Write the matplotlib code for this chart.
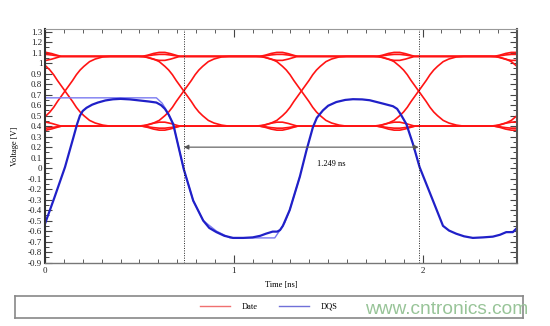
import matplotlib
matplotlib.use("Agg")
import matplotlib.pyplot as plt
from matplotlib.ticker import MultipleLocator, FuncFormatter
from matplotlib.lines import Line2D

plt.rcParams['font.family'] = ['Liberation Serif', 'DejaVu Serif']
plt.rcParams['axes.unicode_minus'] = False

# --- data ---

# DQS strobe, measured trace (time in ns, voltage in V)
dqs_t = [0.0, 0.05, 0.106, 0.15, 0.17, 0.185, 0.20, 0.22, 0.25, 0.28, 0.32, 0.36, 0.40,
         0.45, 0.50, 0.55, 0.59, 0.615, 0.635, 0.655, 0.679, 0.705, 0.735, 0.785,
         0.838, 0.87, 0.908, 0.95, 0.996, 1.05, 1.10, 1.14, 1.17, 1.206, 1.23, 1.245,
         1.26, 1.296, 1.35, 1.385, 1.419, 1.44, 1.472, 1.50, 1.543, 1.59, 1.631,
         1.68, 1.72, 1.79, 1.843, 1.865, 1.885, 1.914, 1.949, 1.984, 2.055, 2.108,
         2.14, 2.178, 2.22, 2.266, 2.32, 2.372, 2.41, 2.443, 2.478, 2.50]
dqs_v = [-0.53, -0.28, 0.01, 0.29, 0.42, 0.50, 0.545, 0.575, 0.605, 0.625, 0.645, 0.656,
         0.66, 0.655, 0.645, 0.635, 0.625, 0.60, 0.565, 0.51, 0.42, 0.22, -0.01, -0.31,
         -0.50, -0.57, -0.61, -0.645, -0.665, -0.665, -0.66, -0.645, -0.625, -0.605,
         -0.605, -0.59, -0.55, -0.40, -0.08, 0.17, 0.39, 0.48, 0.55, 0.595, 0.63,
         0.65, 0.657, 0.655, 0.647, 0.615, 0.59, 0.565, 0.51, 0.42, 0.23, 0.01, -0.31,
         -0.55, -0.595, -0.625, -0.65, -0.665, -0.66, -0.653, -0.635, -0.61, -0.61, -0.57]

# DQS ideal (thin) trace
ideal_t = [0.0, 0.59, 0.62, 0.644, 0.679, 0.705, 0.735, 0.785, 0.838, 0.908, 0.98,
           1.217, 1.245, 1.27, 1.296, 1.35]
ideal_v = [0.67, 0.67, 0.62, 0.55, 0.42, 0.22, -0.01, -0.31, -0.50, -0.60, -0.665,
           -0.665, -0.59, -0.52, -0.40, -0.08]

# Data eye: crossing times, edge shapes and level wobble near crossings
cross_t = [0.106, 0.735, 1.358, 1.979, 2.600]
edge_dt = [-0.24, -0.20, -0.16, -0.13, -0.10, -0.08, -0.06, -0.04, -0.02, 0.0,
           0.02, 0.04, 0.06, 0.08, 0.10, 0.13, 0.16, 0.20, 0.24]
rise_v = [0.40, 0.41, 0.43, 0.455, 0.50, 0.535, 0.58, 0.635, 0.685, 0.735,
          0.785, 0.835, 0.89, 0.935, 0.97, 1.015, 1.04, 1.06, 1.065]
fall_v = [1.065, 1.06, 1.04, 1.015, 0.97, 0.935, 0.89, 0.835, 0.785, 0.735,
          0.685, 0.635, 0.58, 0.535, 0.50, 0.455, 0.43, 0.41, 0.40]
lens_dt = [-0.22, -0.19, -0.16, -0.13, -0.10, -0.07, -0.04, -0.02]
lens_dv = [0.0, 0.012, 0.028, 0.038, 0.038, 0.026, 0.01, 0.0]
level = {'H': 1.065, 'L': 0.40}
patterns = [("HLHLHL", 1), ("LHLHLH", 1),
            ("HHHHHH", 1), ("HHHHHH", -1), ("HHHHHH", 0.5),
            ("LLLLLL", 1), ("LLLLLL", -1), ("LLLLLL", -0.5)]

skew_a, skew_b = 0.735, 1.979
skew_label = "1.249 ns"


def build_trace(levels, bump):
    t, v = [-0.3], [level[levels[0]]]
    for k, tc in enumerate(cross_t):
        a, b = levels[k], levels[k + 1]
        if a == b:
            t += [tc + d for d in lens_dt]
            v += [level[a] + bump * d for d in lens_dv]
        else:
            t += [tc + d for d in edge_dt]
            v += rise_v if b == 'H' else fall_v
    t.append(2.9)
    v.append(level[levels[-1]])
    return t, v


fig = plt.figure(figsize=(5.5, 3.26), dpi=100)
ax = fig.add_axes([45 / 550, (326 - 263.3) / 326, 472 / 550, 234.3 / 326])

red = '#ff1414'
for pat, bump in patterns:
    t, v = build_trace(pat, bump)
    ax.plot(t, v, color=red, lw=1.2, solid_joinstyle='round')

ax.plot(ideal_t, ideal_v, color='#7a7af0', lw=1.0)
ax.plot(dqs_t, dqs_v, color='#2020c8', lw=1.6, solid_joinstyle='round')

for xv in (skew_a, skew_b):
    ax.axvline(xv, color='#222222', ls=(0, (1, 1.5)), lw=0.7)

ax.annotate('', xy=(skew_a, 0.2), xytext=(skew_b, 0.2),
            arrowprops=dict(arrowstyle='<|-|>', color='#555555', lw=0.8,
                            mutation_scale=7, shrinkA=0, shrinkB=0))
ax.text((skew_a + skew_b) / 2 + 0.16, 0.04, skew_label, ha='center', va='center', fontsize=6)

ax.set_xlim(0, 2.5)
ax.set_ylim(-0.907, 1.326)
ax.xaxis.set_major_locator(MultipleLocator(1))
ax.xaxis.set_minor_locator(MultipleLocator(0.1))
ax.yaxis.set_major_locator(MultipleLocator(0.1))
ax.yaxis.set_minor_locator(MultipleLocator(0.05))
ax.yaxis.set_major_formatter(FuncFormatter(lambda val, pos: f"{round(val, 2):g}"))
ax.xaxis.set_major_formatter(FuncFormatter(lambda val, pos: f"{val:g}"))

ax.tick_params(which='both', direction='in', top=True, right=True, colors='#444444',
               labelcolor='#222222', labelsize=6.5)
ax.tick_params(axis='y', which='major', length=5, width=0.8, pad=2)
ax.tick_params(axis='y', which='minor', length=3, width=0.7)
ax.tick_params(axis='x', which='major', length=6, width=0.8, pad=3)
ax.tick_params(axis='x', which='minor', length=3, width=0.6)

ax.spines['left'].set_color('#333333')
ax.spines['left'].set_linewidth(1.5)
ax.spines['right'].set_color('#555555')
ax.spines['right'].set_linewidth(1.5)
ax.spines['bottom'].set_color('#777777')
ax.spines['bottom'].set_linewidth(1.0)
ax.spines['top'].set_color('#999999')
ax.spines['top'].set_linewidth(0.8)

ax.set_ylabel('Voltage [V]', fontsize=6)
ax.yaxis.set_label_coords(-0.055, 0.5)
ax.set_xlabel('Time [ns]', fontsize=6)
ax.xaxis.set_label_coords(0.5, -0.075)

# legend box under the plot
lax = fig.add_axes([15 / 550, (326 - 318) / 326, 508 / 550, 22 / 326])
lax.set_xticks([])
lax.set_yticks([])
for s in lax.spines.values():
    s.set_color('#888888')
    s.set_linewidth(1.2)
handles = [Line2D([], [], color='#f07070', lw=1.0), Line2D([], [], color='#7070d8', lw=1.0)]
lax.legend(handles, ['Date', 'DQS'], loc='center', bbox_to_anchor=(0.5, 0.5), ncol=2,
           frameon=False, fontsize=6, handlelength=3.6, handletextpad=1.4,
           columnspacing=2.5)

fig.text(447 / 550, (326 - 309) / 326, 'www.cntronics.com', ha='center', va='center',
         fontsize=13.8, color='#98c498', family='Liberation Sans')

fig.savefig('out.png', dpi=100)
